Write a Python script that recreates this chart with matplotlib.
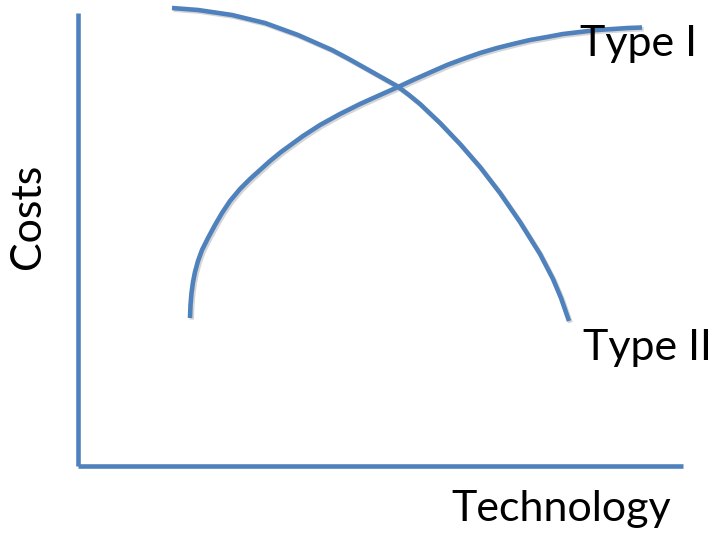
import matplotlib
matplotlib.use("Agg")
import matplotlib.pyplot as plt
import matplotlib.patheffects as pe

# Schematic data (technology level vs cost), origin at the axes corner
type1_x = [112, 112.5, 113.5, 115, 117, 120, 124, 130, 137, 144, 152, 162, 172, 182, 192, 203, 214, 225, 242, 262,
           282, 302, 320, 335, 352, 369, 385, 402, 419, 435, 452, 469, 485, 502, 519, 535, 550, 564]
type1_y = [148, 161, 173, 184, 194, 205, 216, 228, 241, 253, 265, 277, 287, 296, 305, 314, 322, 330, 341, 352,
           362, 371, 379, 386, 393.5, 401, 407, 413, 418, 422, 426, 429, 432, 434, 436, 437, 438, 438.5]

type2_x = [94, 120, 154, 187, 220, 254, 270, 287, 303, 319, 331, 342, 362, 382, 402, 422, 442, 462, 475, 483, 491]
type2_y = [458, 456, 451, 443, 431, 416, 407.5, 398, 389, 380, 371, 362, 343, 322, 299, 273, 244, 212, 187, 168, 145]

x_label = "Technology"
y_label = "Costs"
series_labels = ["Type I", "Type II"]

W, H = 715, 533
fig = plt.figure(figsize=(W / 100, H / 100), dpi=100)
ox, oy = 78, 466
ax = fig.add_axes([ox / W, (H - oy) / H, 1 - ox / W, oy / H])
ax.set_xlim(0, W - ox)
ax.set_ylim(0, oy)

blue = "#4F81BD"
lw = 3.3
shadow = [pe.SimpleLineShadow(offset=(1.2, -1.2), shadow_color="#888888", alpha=0.35), pe.Normal()]

for s in ["top", "right"]:
    ax.spines[s].set_visible(False)
for s in ["left", "bottom"]:
    ax.spines[s].set_color(blue)
    ax.spines[s].set_linewidth(lw)
    ax.spines[s].set_capstyle("butt")
ax.spines["left"].set_bounds(0, oy - 13)
ax.spines["bottom"].set_bounds(0, 683 - ox)
ax.set_xticks([])
ax.set_yticks([])
ax.patch.set_alpha(0)

ax.plot(type1_x, type1_y, color=blue, lw=lw, solid_capstyle="butt",
        solid_joinstyle="round", path_effects=shadow)
ax.plot(type2_x, type2_y, color=blue, lw=lw, solid_capstyle="butt",
        solid_joinstyle="round", path_effects=shadow)

font = "Lato"
fs = 31
fig.text(451 / W, 1 - 521 / H, x_label, fontsize=fs, family=font, ha="left", va="baseline")
fig.text(47 / W, 1 - 216 / H, y_label, fontsize=fs, family=font, rotation=90, ha="right", va="center")
fig.text(580 / W, 1 - 56 / H, series_labels[0], fontsize=fs, family=font, ha="left", va="baseline")
fig.text(583 / W, 1 - 360 / H, series_labels[1], fontsize=fs, family=font, ha="left", va="baseline")

fig.savefig("out.png", dpi=100)
